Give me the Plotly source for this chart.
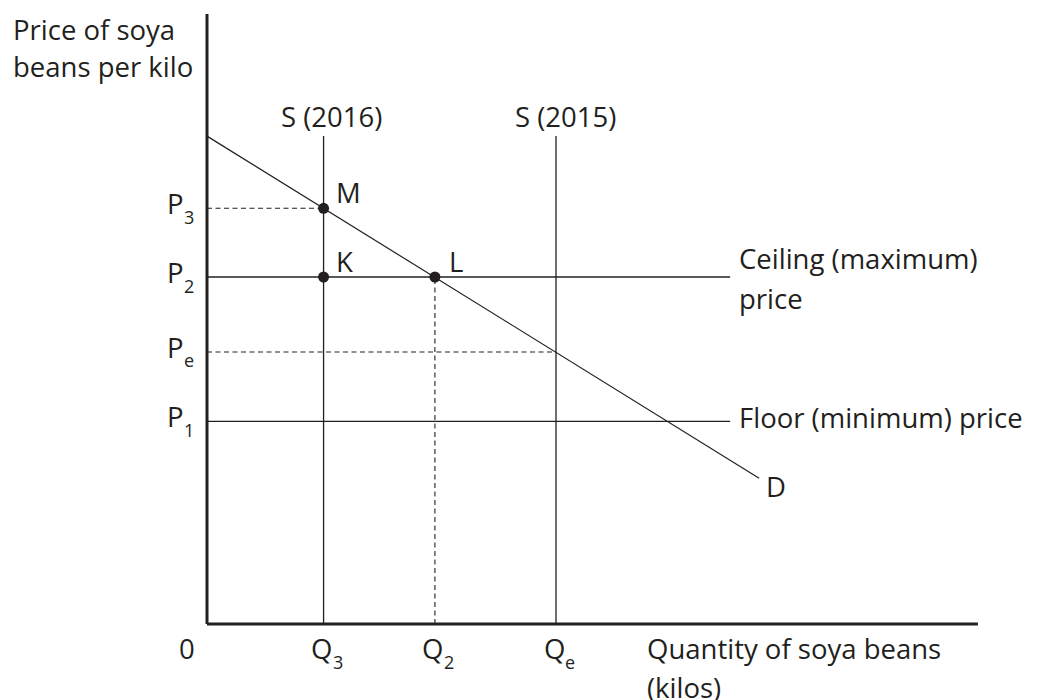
import plotly.graph_objects as go

# ---- data (arbitrary units) ----
quantity_names = ["Q3", "Q2", "Qe"]
quantity_values = [3.34, 6.53, 10.0]
price_names = ["P3", "P2", "Pe", "P1"]
price_values = [5.99, 5.0, 3.92, 2.92]
demand_q = [0.0, 15.82]
demand_p = [7.03, 2.10]
supply_top = 7.03
control_end_q = 14.99
axis_x_end = 22.09
axis_y_end = 8.79
qty_title_x = 12.66

Q = dict(zip(quantity_names, quantity_values))
P = dict(zip(price_names, price_values))
Q3, Q2, Qe = Q["Q3"], Q["Q2"], Q["Qe"]
P3, P2, Pe, P1 = P["P3"], P["P2"], P["Pe"], P["P1"]

# ---- layout mapping ----
W, H = 1039, 700
ORIGIN = (199, 616)          # origin position inside the figure (page body has an 8px margin)
SX, SY = 34.9, 69.4          # pixels per unit
x_range = [-ORIGIN[0] / SX, (W - ORIGIN[0]) / SX]
y_range = [(ORIGIN[1] - H) / SY, ORIGIN[1] / SY]

INK = "#231f20"
FONT = "Open Sans"
FS = 27.5
SUB = 18

fig = go.Figure()

def line(xs, ys, width=1.3, dash="solid", color=INK):
    fig.add_trace(go.Scatter(x=xs, y=ys, mode="lines", line=dict(color=color, width=width, dash=dash),
                             hoverinfo="skip", showlegend=False, cliponaxis=False))

DASH = "5px,3.5px"

# ceiling & floor
line([0, control_end_q], [P2, P2])
line([0, control_end_q], [P1, P1])

# supply curves
line([Q3, Q3], [0, supply_top])
line([Qe, Qe], [0, supply_top])

# dashed guides
line([0, Q3], [P3, P3], dash=DASH, width=1.1)
line([0, Qe], [Pe, Pe], dash=DASH, width=1.1)
line([Q2, Q2], [0, P2], dash=DASH, width=1.1)

# demand
line(demand_q, demand_p, width=1.2)

# axes
line([0, 0], [0, axis_y_end], width=3)
line([0, axis_x_end], [0, 0], width=3)

# points
fig.add_trace(go.Scatter(x=[Q3, Q3, Q2], y=[P3, P2, P2], mode="markers",
                         marker=dict(color=INK, size=11, line=dict(width=0)), hoverinfo="skip",
                         showlegend=False, cliponaxis=False))

def txt(x, y, s, xanchor="left", yanchor="middle", xshift=0, yshift=0, size=FS):
    fig.add_annotation(x=x, y=y, text=s, showarrow=False, xanchor=xanchor, yanchor=yanchor,
                       xshift=xshift, yshift=yshift, borderpad=0, borderwidth=0,
                       font=dict(family=FONT, size=size, color=INK))

# axis titles
txt(0, axis_y_end, "Price of soya", xshift=-194, yshift=-15.5)
txt(0, axis_y_end, "beans per kilo", xshift=-194, yshift=-53)
txt(qty_title_x, 0, "Quantity of soya beans", xshift=-2, yshift=-24)
txt(qty_title_x, 0, "(kilos)", xshift=-2, yshift=-63)
txt(0, 0, "0", xanchor="center", xshift=-20, yshift=-24)

# price labels (letter + subscript)
for name, val in zip(price_names, price_values):
    txt(0, val, name[0], xanchor="right", xshift=-23, yshift=4.5)
    txt(0, val, name[1], xanchor="left", xshift=-23, yshift=-8.5, size=SUB)

# quantity labels
for name, val in zip(quantity_names, quantity_values):
    txt(val, 0, name[0], xanchor="center", xshift=-2, yshift=-24)
    txt(val, 0, name[1], xanchor="left", xshift=9, yshift=-37.5, size=SUB)

# curve labels
txt(Q3, supply_top, "S (2016)", xanchor="center", xshift=8, yshift=20)
txt(Qe, supply_top, "S (2015)", xanchor="center", xshift=9, yshift=20)
txt(Q3, P3, "M", xshift=12, yshift=16)
txt(Q3, P2, "K", xshift=12, yshift=15.5)
txt(Q2, P2, "L", xshift=14, yshift=15.5)
txt(control_end_q, P2, "Ceiling (maximum)", xshift=9, yshift=19)
txt(control_end_q, P2, "price", xshift=9, yshift=-21)
txt(control_end_q, P1, "Floor (minimum) price", xshift=9, yshift=4)
txt(demand_q[1], demand_p[1], "D", xshift=7, yshift=-8.5)

fig.update_layout(
    width=W, height=H,
    margin=dict(l=0, r=0, t=0, b=0),
    paper_bgcolor="white", plot_bgcolor="white",
    xaxis=dict(range=x_range, visible=False, fixedrange=True),
    yaxis=dict(range=y_range, visible=False, fixedrange=True),
    showlegend=False,
)

fig.write_html("out.html")
